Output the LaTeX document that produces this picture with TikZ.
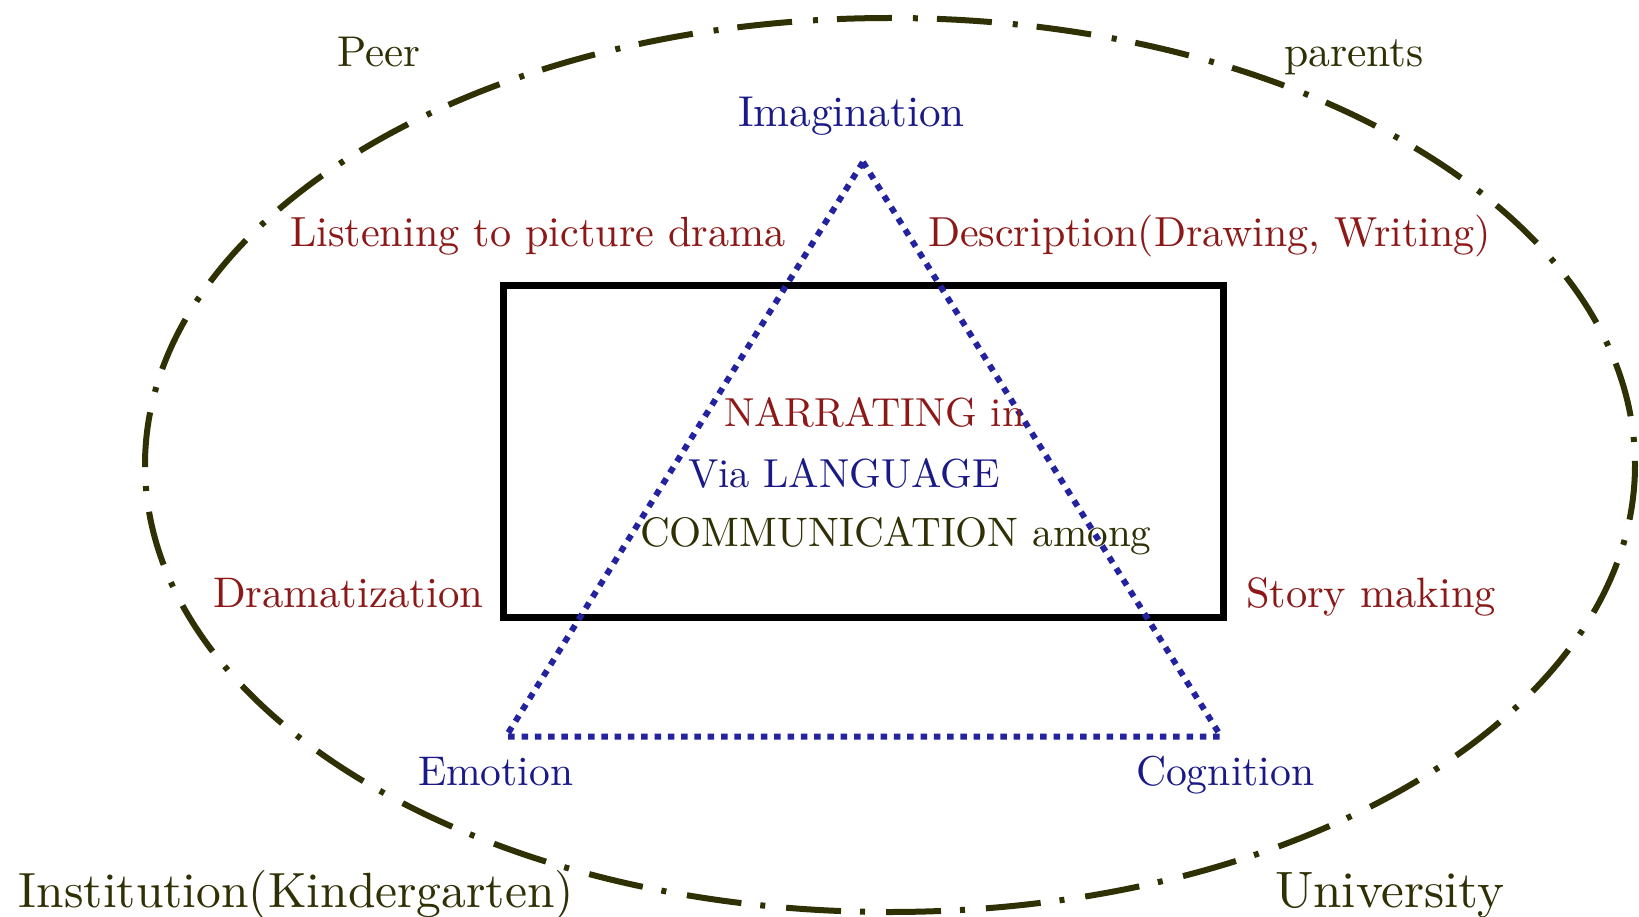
\documentclass[tikz,border=0pt]{standalone}
\usepackage{graphicx}
\definecolor{olivedk}{RGB}{48,48,5}
\definecolor{redtxt}{RGB}{140,24,24}
\definecolor{bluetxt}{RGB}{25,25,135}
\definecolor{bluedot}{RGB}{35,35,160}
\begin{document}
\begin{tikzpicture}[x=1pt,y=-1pt,
  lbl/.style={inner sep=0pt, outer sep=0pt, anchor=base west},
  ring/.style={draw=olivedk, line width=6pt, dash pattern=on 55pt off 21pt on 5pt off 19pt},
  boxline/.style={draw=black, line width=7pt},
  tri/.style={draw=bluedot, line width=6pt, dash pattern=on 6.5pt off 6.8pt}]
\path[use as bounding box] (0,0) rectangle (1639,917);
\fill[white] (0,0) rectangle (1639,917);
% outer ellipse
\draw[ring] (890,465) ellipse [x radius=745, y radius=447];
% central box
\node[boxline, inner sep=0pt, minimum width=720pt, minimum height=331pt] (box) at (863,451.5) {};
% triangle corners
\coordinate (apex) at (863,162);
\coordinate (emo) at (506,736.5);
\coordinate (cog) at (1221,736.5);
\draw[tri] (apex) -- (cog) -- (emo) -- cycle;
% labels
\node[lbl, text=olivedk] (peer) at (337,67) {\scalebox{4.3}{Peer}};
\node[lbl, text=olivedk] (parents) at (1284,67) {\scalebox{4.36}{parents}};
\node[lbl, text=bluetxt] (imag) at (738,127) {\scalebox{4.32}{Imagination}};
\node[lbl, text=redtxt] (listen) at (290,247) {\scalebox{4.22}{Listening to picture drama}};
\node[lbl, text=redtxt] (descr) at (928,247) {\scalebox{4.2}{Description(Drawing, Writing)}};
\node[lbl, text=redtxt] (narr) at (724,426) {\scalebox{4.05}{NARRATING in}};
\node[lbl, text=bluetxt] (via) at (688,487) {\scalebox{4.05}{Via LANGUAGE}};
\node[lbl, text=olivedk] (comm) at (640,546) {\scalebox{4.12}{COMMUNICATION among}};
\node[lbl, text=redtxt] (drama) at (213,607) {\scalebox{4.28}{Dramatization}};
\node[lbl, text=redtxt] (story) at (1246,607) {\scalebox{4.24}{Story making}};
\node[lbl, text=bluetxt] (emotion) at (418,785) {\scalebox{4.15}{Emotion}};
\node[lbl, text=bluetxt] (cognition) at (1136,785) {\scalebox{4.17}{Cognition}};
\node[lbl, text=olivedk] (inst) at (19,907) {\scalebox{4.95}{Institution(Kindergarten)}};
\node[lbl, text=olivedk] (univ) at (1275,907) {\scalebox{5.12}{University}};
\end{tikzpicture}
\end{document}
